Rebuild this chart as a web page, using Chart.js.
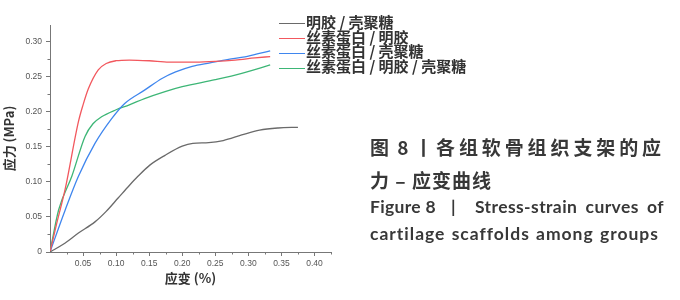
<!DOCTYPE html>
<html lang="zh">
    <head>
        <meta charset="utf-8">
        <title> 应力-应变曲线 </title>
        <script src="https://cdn.jsdelivr.net/npm/chart.js@4.4.1/dist/chart.umd.min.js"></script>
        <style>
            html, body { margin: 0; padding: 0; background: #fff; }
            #wrap { position: relative; width: 680px; height: 300px; overflow: hidden; }
            #grafico { position: absolute; left: 0; top: 0; }
            .leg { position: absolute; left: 279px; font: bold 15px/15px "Noto Sans CJK SC"; color: #333; white-space: nowrap; }
            .leg i { display: inline-block; width: 26px; height: 0; border-top: 1.5px solid; vertical-align: middle; margin-right: 1px; }
            .cap { position: absolute; color: #383838; white-space: nowrap; font-weight: bold; }
            .cn { font-family: "Noto Sans CJK SC"; font-size: 19px; line-height: 26px; }
            .en { font-family: Lato, "Open Sans", sans-serif; font-size: 17.5px; line-height: 24px; letter-spacing: 0.3px; }
        </style>
    </head>
    <body>
        <div id="wrap">
            <canvas id="grafico" width="680" height="300"></canvas>
            <div id="legenda"></div>
            <span class="cap cn" style="left:370px; top:134px; letter-spacing:2px;">图 8</span>
            <span class="cap cn" style="left:414px; top:134px;">丨</span>
            <span class="cap cn" style="left:436px; top:134px; letter-spacing:3.9px;">各组软骨组织支架的应</span>
            <span class="cap cn" style="left:370px; top:167px; letter-spacing:1px;">力 – 应变曲线</span>
            <span class="cap en" style="left:370px; top:195px;">Figure 8</span>
            <span class="cap en" style="left:451px; top:195px;">|</span>
            <span class="cap en fit" data-w="189" style="left:475px; top:195px; letter-spacing:0.4px;">Stress-strain curves of</span>
            <span class="cap en fit" data-w="289" style="left:370px; top:222px; letter-spacing:1px;">cartilage scaffolds among groups</span>
        </div>

        <script>

            // rotulos das series
            const series = ['明胶 / 壳聚糖', '丝素蛋白 / 明胶', '丝素蛋白 / 壳聚糖', '丝素蛋白 / 明胶 / 壳聚糖'];
            const cores = ['#6a6a6a', '#f2585e', '#3f86ee', '#3db676'];

            // deformacao (%) e tensao (MPa)
            const strainGel = [0, 0.02, 0.043, 0.068, 0.085, 0.103, 0.12, 0.133, 0.151, 0.174, 0.2, 0.216, 0.24, 0.262, 0.29, 0.317, 0.345, 0.375];
            const stressGel = [0, 0.011, 0.027, 0.043, 0.058, 0.077, 0.095, 0.108, 0.124, 0.138, 0.151, 0.155, 0.156, 0.159, 0.167, 0.174, 0.177, 0.178];

            const strainSfGel = [0, 0.01, 0.023, 0.043, 0.05, 0.058, 0.073, 0.085, 0.1, 0.12, 0.15, 0.18, 0.22, 0.25, 0.28, 0.31, 0.333];
            const stressSfGel = [0, 0.04, 0.09, 0.186, 0.21, 0.233, 0.26, 0.269, 0.273, 0.274, 0.273, 0.271, 0.271, 0.272, 0.274, 0.277, 0.279];

            const strainSfCs = [0, 0.023, 0.043, 0.068, 0.093, 0.113, 0.143, 0.17, 0.19, 0.215, 0.242, 0.27, 0.292, 0.315, 0.333];
            const stressSfCs = [0, 0.06, 0.108, 0.155, 0.19, 0.212, 0.231, 0.248, 0.257, 0.265, 0.27, 0.275, 0.278, 0.283, 0.287];

            const strainSfGelCs = [0, 0.013, 0.033, 0.053, 0.065, 0.078, 0.1, 0.12, 0.143, 0.174, 0.2, 0.25, 0.29, 0.333];
            const stressSfGelCs = [0, 0.06, 0.108, 0.165, 0.183, 0.193, 0.203, 0.21, 0.219, 0.229, 0.236, 0.246, 0.255, 0.267];

            // marcas dos eixos
            const xTicks = [0.05, 0.10, 0.15, 0.20, 0.25, 0.30, 0.35, 0.40];
            const yTicks = [0, 0.05, 0.10, 0.15, 0.20, 0.25, 0.30];

            const pares = [
                [strainGel, stressGel],
                [strainSfGel, stressSfGel],
                [strainSfCs, stressSfCs],
                [strainSfGelCs, stressSfGelCs]
            ];

            const legenda = document.getElementById('legenda');
            series.forEach((nome, i) => {
                const row = document.createElement('div');
                row.className = 'leg';
                row.style.top = (14 + i * 14.7) + 'px';
                row.innerHTML = `<i style="color:${ cores[i] }"></i>${ nome }`;
                legenda.appendChild(row);
            });

            // ajusta o espaco entre palavras para ocupar a largura da legenda
            document.querySelectorAll('.fit').forEach(el => {
                const alvo = Number(el.dataset.w);
                const espacos = el.textContent.split(' ').length - 1;
                const sobra = alvo - el.getBoundingClientRect().width;
                el.style.wordSpacing = (sobra / espacos) + 'px';
            });

            // marcas menores entre as principais
            const minorTicks = {
                id: 'minorTicks',
                afterDraw (chart) {
                    const ctx = chart.ctx;
                    const sx = chart.scales.x, sy = chart.scales.y;
                    ctx.save();
                    ctx.strokeStyle = '#777';
                    ctx.lineWidth = 1;
                    ctx.beginPath();
                    for (let v = 0.025; v < sx.max; v += 0.05) {
                        const px = Math.round(sx.getPixelForValue(v)) + 0.5;
                        ctx.moveTo(px, sy.bottom);
                        ctx.lineTo(px, sy.bottom + 2.5);
                    }
                    for (let v = 0.025; v < sy.max; v += 0.05) {
                        const py = Math.round(sy.getPixelForValue(v)) + 0.5;
                        ctx.moveTo(sx.left, py);
                        ctx.lineTo(sx.left - 2.5, py);
                    }
                    ctx.stroke();
                    ctx.restore();
                }
            };

            const tickFont = { family: 'Liberation Sans', size: 8.5 };
            const titleFont = { family: 'Noto Sans CJK SC', size: 13, weight: 'bold' };

            new Chart(document.getElementById('grafico'), {
                type: 'line',
                data: {
                    datasets: series.map((nome, i) => ({
                        label: nome,
                        data: pares[i][0].map((x, k) => ({ x: x, y: pares[i][1][k] })),
                        borderColor: cores[i],
                        borderWidth: 1.3,
                        pointRadius: 0,
                        fill: false,
                        cubicInterpolationMode: 'monotone'
                    }))
                },
                options: {
                    responsive: false,
                    animation: false,
                    layout: { padding: { top: 25, right: 349, bottom: 0, left: 0 } },
                    plugins: { legend: { display: false }, tooltip: { enabled: false } },
                    scales: {
                        x: {
                            type: 'linear',
                            min: 0,
                            max: 0.425,
                            afterBuildTicks: s => { s.ticks = xTicks.map(v => ({ value: v })); },
                            afterFit: s => { s.height = 48; },
                            ticks: {
                                font: tickFont,
                                color: '#555',
                                padding: 3,
                                maxRotation: 0,
                                callback: v => Number(v).toFixed(2)
                            },
                            grid: { drawOnChartArea: false, tickLength: 4, color: '#777' },
                            border: { color: '#777', width: 1 },
                            title: { display: true, text: '应变 (%)', font: titleFont, color: '#333', padding: { top: 2, bottom: 14 } }
                        },
                        y: {
                            type: 'linear',
                            min: 0,
                            max: 0.324,
                            afterBuildTicks: s => { s.ticks = yTicks.map(v => ({ value: v })); },
                            afterFit: s => { s.width = 50; },
                            ticks: {
                                font: tickFont,
                                color: '#555',
                                padding: 4,
                                callback: v => v === 0 ? '0' : Number(v).toFixed(2)
                            },
                            grid: { drawOnChartArea: false, tickLength: 4, color: '#777' },
                            border: { color: '#777', width: 1 },
                            title: { display: true, text: '应力 (MPa)', font: titleFont, color: '#333', padding: { top: 1, bottom: 2 } }
                        }
                    }
                },
                plugins: [minorTicks]
            });

        </script>
    </body>
</html>
